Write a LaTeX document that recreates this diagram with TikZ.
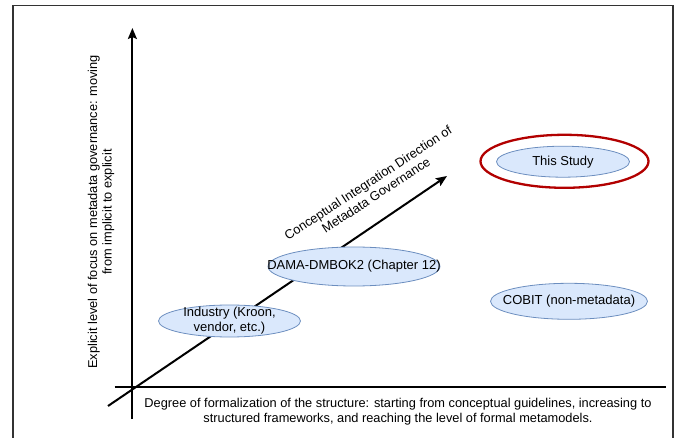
\documentclass[tikz,border=0pt]{standalone}
\usepackage{fontspec}
\setmainfont{Liberation Sans}
\usepackage{tikz}
\usetikzlibrary{arrows.meta,shapes.geometric}

\definecolor{bubblefill}{HTML}{DAE8FC}
\definecolor{bubbleline}{HTML}{6C8EBF}
\definecolor{ringred}{HTML}{B20000}

\tikzset{
  bubble/.style={ellipse, draw=bubbleline, fill=bubblefill, line width=0.8pt,
    inner sep=0pt},
  bubbletext/.style={align=center, inner sep=0pt, font=\fontsize{13}{15}\selectfont},
  ring/.style={ellipse, draw=ringred, line width=2.3pt, inner sep=0pt},
  axis/.style={line width=2pt},
  axislabel/.style={align=center, font=\fontsize{12.8}{14.6}\selectfont},
}

\begin{document}
\begin{tikzpicture}[x=1pt,y=-1pt]
    \useasboundingbox (0,0) rectangle (677,438);
    \draw[line width=1.5pt, black!80] (13,450) -- (13,5.5) -- (673,5.5) -- (673,450);
    % axes
    \coordinate (origin) at (132.4,386.6);
    \coordinate (ybottom) at (132.4,419);
    \coordinate (ytop) at (132.4,28);
    \coordinate (xleft) at (114.7,386.6);
    \coordinate (xright) at (665.6,386.6);
    \draw[axis] (xleft) -- (xright);
    \draw[axis, -{Stealth[length=11pt,width=9pt,inset=2pt]}] (ybottom) -- (ytop);
    \node[axislabel, rotate=90] (ylab) at (101,212)
      {Explicit level of focus on metadata governance: moving\\from implicit to explicit};
    \node[axislabel] (xlab) at (398,411.5)
      {Degree of formalization of the structure: starting from conceptual guidelines, increasing to\\structured frameworks, and reaching the level of formal metamodels.};
    % direction arrow
    \coordinate (dstart) at (108,406);
    \coordinate (dend) at (447,176);
    \draw[axis, -{Stealth[length=11pt,width=9pt,inset=2pt]}] (dstart) -- (dend);
    \node[axislabel, rotate=33.3] (dlab) at (372,189)
      {Conceptual Integration Direction of\\Metadata Governance};
    % frameworks
    \node[bubble, minimum width=142pt, minimum height=32pt,
      label={[bubbletext]center:Industry (Kroon,\\vendor, etc.)}] (industry) at (229.5,321) {};
    \node[bubble, minimum width=172pt, minimum height=39pt,
      label={[bubbletext]center:DAMA-DMBOK2 (Chapter 12)}] (dama) at (354,266.5) {};
    \node[bubble, minimum width=157pt, minimum height=36pt,
      label={[bubbletext]center:COBIT (non-metadata)}] (cobit) at (569,301.3) {};
    \node[bubble, minimum width=133pt, minimum height=31pt,
      label={[bubbletext]center:This Study}] (study) at (563,161.7) {};
    \node[ring, minimum width=168pt, minimum height=53pt] (studyring) at (564.5,161.3) {};
  \end{tikzpicture}
\end{document}
